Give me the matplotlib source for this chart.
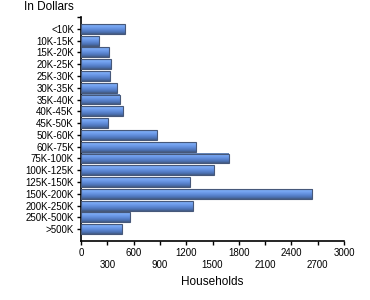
import numpy as np
import matplotlib
matplotlib.use("Agg")
import matplotlib.pyplot as plt
from matplotlib.colors import LinearSegmentedColormap

categories = ["<10K", "10K-15K", "15K-20K", "20K-25K", "25K-30K", "30K-35K",
              "35K-40K", "40K-45K", "45K-50K", "50K-60K", "60K-75K", "75K-100K",
              "100K-125K", "125K-150K", "150K-200K", "200K-250K", "250K-500K", ">500K"]
households = [498, 202, 316, 338, 327, 407, 441, 475, 304, 862, 1307, 1683,
              1512, 1238, 2640, 1273, 555, 464]
xticks = list(range(0, 3001, 300))

plt.rcParams['font.family'] = ['Liberation Sans', 'DejaVu Sans']

fig = plt.figure(figsize=(3.7, 3.0), dpi=100)
ax = fig.add_axes([81/370, 1-241/300, (344-81)/370, (241-17)/300])

cmap = LinearSegmentedColormap.from_list("cyl", [
    (0.0, "#5a6f90"), (0.12, "#7eaef8"), (0.3, "#72a0ee"),
    (0.6, "#5b86d2"), (0.85, "#4a6eae"), (1.0, "#435a80")])
grad = np.linspace(0, 1, 64).reshape(-1, 1)
h = 0.84
y = np.arange(len(categories))
for yi, v in zip(y, households):
    ax.imshow(grad, cmap=cmap, aspect='auto', origin='upper',
              extent=[0, v, yi + h/2, yi - h/2], zorder=2, interpolation='bilinear')
ax.barh(y, households, height=h, fill=False, edgecolor="#46587a", linewidth=0.8, zorder=3)

ax.set_ylim(18, -1)
ax.set_xlim(0, 3000)
ax.set_yticks(y)
ax.set_yticklabels(categories, fontsize=7)
ax.set_yticks([-1], minor=True)
ax.set_xticks(xticks)
ax.set_xticklabels([str(t) if i % 2 == 0 else "\n" + str(t) for i, t in enumerate(xticks)], fontsize=7)
ax.tick_params(axis='both', length=3, width=1, pad=2, color='black')
ax.tick_params(axis='y', which='minor', length=3, width=1)
for s in ['top', 'right']:
    ax.spines[s].set_visible(False)
for s in ['left', 'bottom']:
    ax.spines[s].set_linewidth(1.2)
ax.set_xlabel("Households", fontsize=8.5, labelpad=5)
fig.text(24/370, 1-7/300, "In Dollars", fontsize=8.5, ha='left', va='center')

fig.savefig("out.png", dpi=100)
